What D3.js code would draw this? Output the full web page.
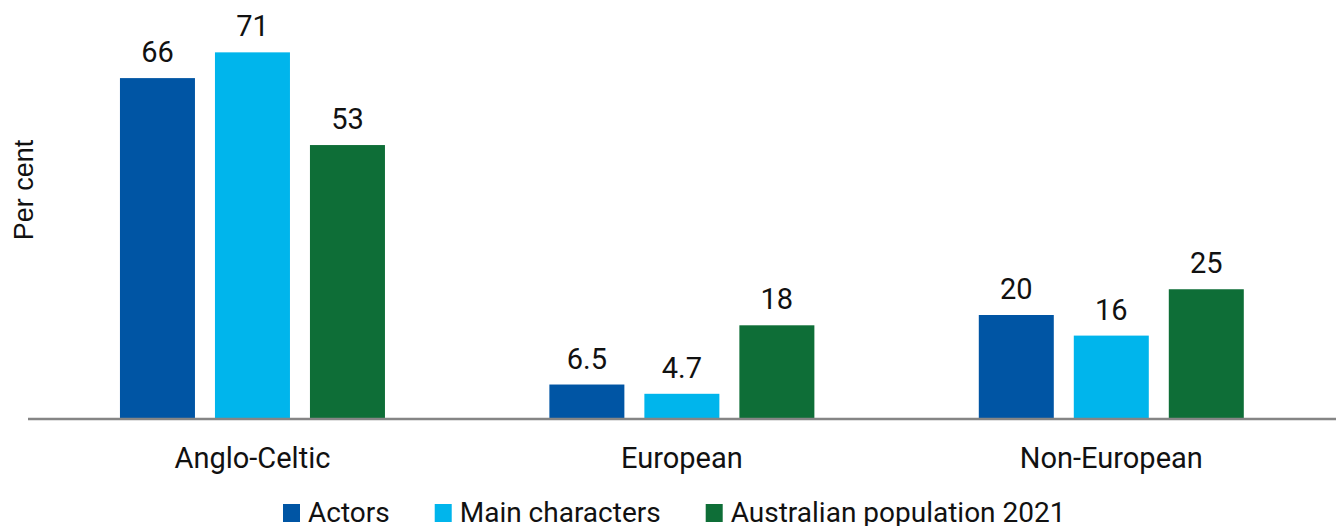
<!DOCTYPE html>
<html>
<head>
<meta charset="utf-8">
<script src="https://cdn.jsdelivr.net/npm/d3@7"></script>
<style>
  body { margin: 0; background: #fff; }
  text { font-family: Roboto, "Noto Sans", sans-serif; fill: #111; }
</style>
</head>
<body>
<svg id="chart" width="1336" height="526"></svg>
<script>
// data
var categories = ['Anglo-Celtic', 'European', 'Non-European'];
var series = ['Actors', 'Main characters', 'Australian population 2021'];
var actors = [66, 6.5, 20];
var mainChars = [71, 4.7, 16];
var population = [53, 18, 25];
var labels = ['66', '6.5', '20', '71', '4.7', '16', '53', '18', '25'];

var colors = ['#0055a4', '#00b5ec', '#0e6e37'];
var svg = d3.select('#chart');

var all_vals = [actors, mainChars, population];
var rows = [];
for (var s = 0; s < series.length; s++) {
  for (var c = 0; c < categories.length; c++) {
    rows.push({cat: categories[c], ser: series[s], val: all_vals[s][c], lab: labels[s * 3 + c], col: colors[s]});
  }
}

var x0 = d3.scaleBand().domain(categories).range([37.75, 1326]).padding(0);
var x1 = d3.scaleBand().domain(series).range([-132.5, 132.5]).paddingInner(20 / 95).paddingOuter(0);
var y = d3.scaleLinear().domain([0, 80]).range([418, 6]);

function cx(d) { return x0(d.cat) + x0.bandwidth() / 2 + x1(d.ser); }

svg.selectAll('rect.bar').data(rows).enter().append('rect')
  .attr('class', 'bar')
  .attr('x', cx)
  .attr('y', function(d) { return y(d.val); })
  .attr('width', x1.bandwidth())
  .attr('height', function(d) { return y(0) - y(d.val); })
  .attr('fill', function(d) { return d.col; });

svg.selectAll('text.val').data(rows).enter().append('text')
  .attr('class', 'val')
  .attr('x', function(d) { return cx(d) + x1.bandwidth() / 2; })
  .attr('y', function(d) { return y(d.val) - 16; })
  .attr('text-anchor', 'middle')
  .style('font-size', '29px')
  .text(function(d) { return d.lab; });

// baseline
svg.append('line')
  .attr('x1', 28).attr('x2', 1336)
  .attr('y1', y(0) + 1).attr('y2', y(0) + 1)
  .attr('stroke', '#858585')
  .attr('stroke-width', 2.5);

// category labels
var xAxis = svg.append('g').attr('transform', 'translate(0,' + (y(0) + 1) + ')')
  .call(d3.axisBottom(x0).tickSize(0).tickPadding(28));
xAxis.select('.domain').remove();
xAxis.selectAll('text')
  .style('font-size', '29px')
  .attr('font-family', null)
  .attr('fill', '#111');

// y title
svg.append('text')
  .attr('transform', 'translate(33,190) rotate(-90)')
  .attr('text-anchor', 'middle')
  .style('font-family', '"Liberation Sans", Arial, sans-serif')
  .style('font-size', '27px')
  .text('Per cent');

// legend
var legend = svg.append('g');
var lx = 283;
for (var i = 0; i < series.length; i++) {
  var item = legend.append('g').attr('transform', 'translate(' + lx + ',0)');
  item.append('rect').attr('x', 0).attr('y', 504).attr('width', 17).attr('height', 18).attr('fill', colors[i]);
  var t = item.append('text').attr('x', 25).attr('y', 522).style('font-size', '28px').text(series[i]);
  lx += 25 + t.node().getComputedTextLength() + 45;
}
</script>
</body>
</html>
